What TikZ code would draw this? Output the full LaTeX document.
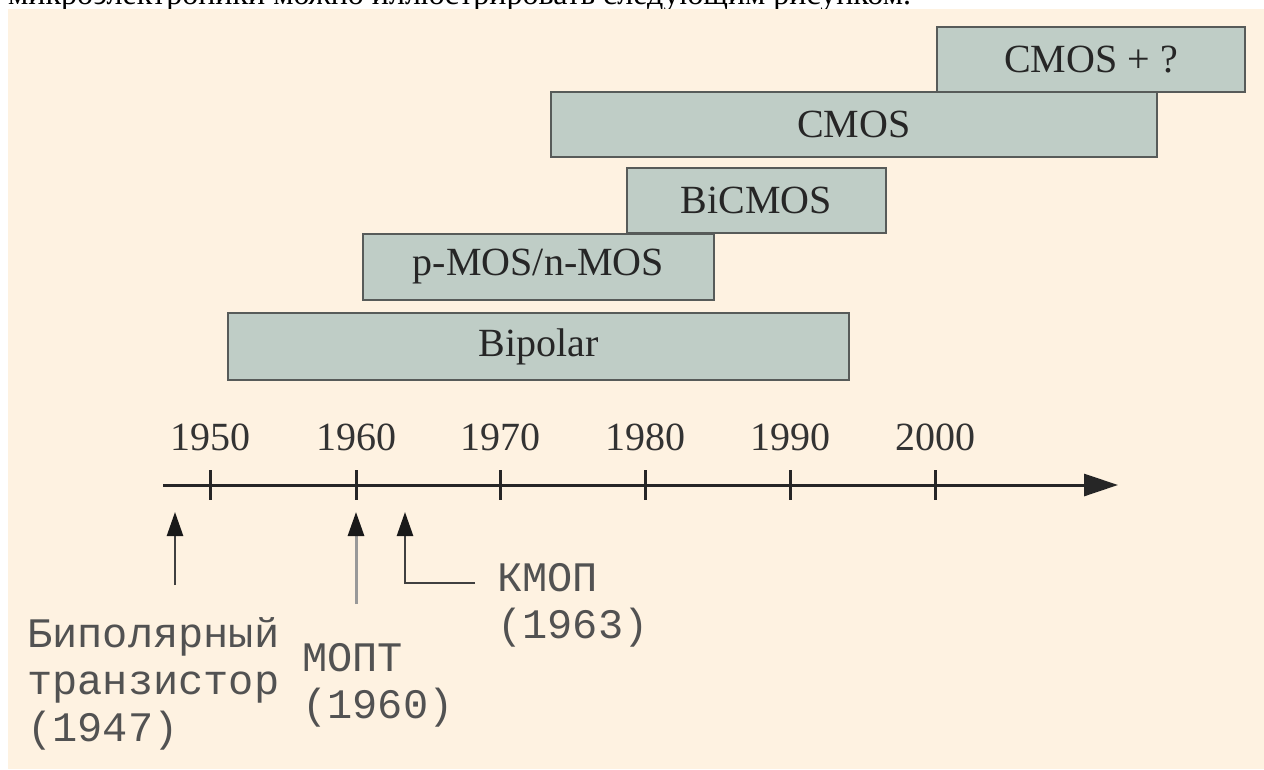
\documentclass[tikz,border=0pt]{standalone}
\usepackage{fontspec}
\setmainfont{Liberation Serif}
\newfontfamily\typefont{Liberation Mono}
\usetikzlibrary{arrows.meta,positioning}
\definecolor{paper}{HTML}{FEF2E1}
\definecolor{slab}{HTML}{BFCDC6}
\definecolor{rim}{HTML}{575B59}
\tikzset{
	era/.style={draw=rim, line width=2.5pt, fill=slab, minimum height=65pt, inner sep=0pt, text=black!85, font=\fontsize{40}{48}\selectfont},
	year/.style={font=\fontsize{40}{48}\selectfont, text=black!80},
	tick/.style={line width=3pt, black!85},
	rise/.style={line width=2.5pt, black!75, -{Triangle[length=24pt,width=16pt,color=black!90]}},
	note/.style={font=\typefont\fontsize{42}{47}\selectfont, align=left, anchor=north west, inner sep=0pt, text=black!68},
}
\begin{document}
\begin{tikzpicture}[x=1pt,y=-1pt]
	\useasboundingbox (0,0) rectangle (1264,769);
	\clip (0,0) rectangle (1264,769);
	\fill[white] (0,0) rectangle (1264,769);
	\node[anchor=base west, inner sep=0pt, font=\fontsize{32}{38}\selectfont] (lead) at (8,4) {микроэлектроники можно иллюстрировать следующим рисунком.};
	\fill[paper] (8,9) rectangle (1264,769);
	\node[era, minimum width=308pt] (cmosq) at (1091,59.5) {CMOS + ?};
	\node[era, minimum width=606pt] (cmos) at (854,124.5) {CMOS};
	\node[era, minimum width=259pt] (bicmos) at (756.5,200.5) {BiCMOS};
	\node[era, minimum width=351pt, minimum height=66pt] (pnmos) at (538.5,267) {p-MOS/n-MOS};
	\node[era, minimum width=621pt, minimum height=67pt] (bipolar) at (538.5,346.5) {Bipolar};
	\coordinate (axl) at (163,485);
	\coordinate (axr) at (1118,485);
	\draw[line width=3pt, black!85, -{Triangle[length=34pt,width=22pt]}] (axl) -- (axr);
	\foreach \yr/\xp in {1950/210,1960/356,1970/500,1980/645,1990/790,2000/935} {
		\draw[tick] (\xp,470) -- (\xp,500);
		\node[year] (y\yr) at (\xp,437) {\yr};}
	\node[note] (bjt) at (27,617) {Биполярный\\транзистор\\(1947)};
	\node[note] (mosfet) at (302,643) {МОПТ\\(1960)};
	\node[note] (cmosn) at (497,563) {КМОП\\(1963)};
	\coordinate (bjtfoot) at (175,585);
	\coordinate (bjttip) at (175,512);
	\coordinate (mosfoot) at (356,604);
	\coordinate (mostip) at (356,512);
	\coordinate (cmosfoot) at (475,583);
	\coordinate (cmosbend) at (405,583);
	\coordinate (cmostip) at (405,512);
	\draw[rise] (bjtfoot) -- (bjttip);
	\draw[rise, black!40, line width=3pt] (mosfoot) -- (mostip);
	\draw[rise] (cmosfoot) -- (cmosbend) -- (cmostip);
\end{tikzpicture}
\end{document}
